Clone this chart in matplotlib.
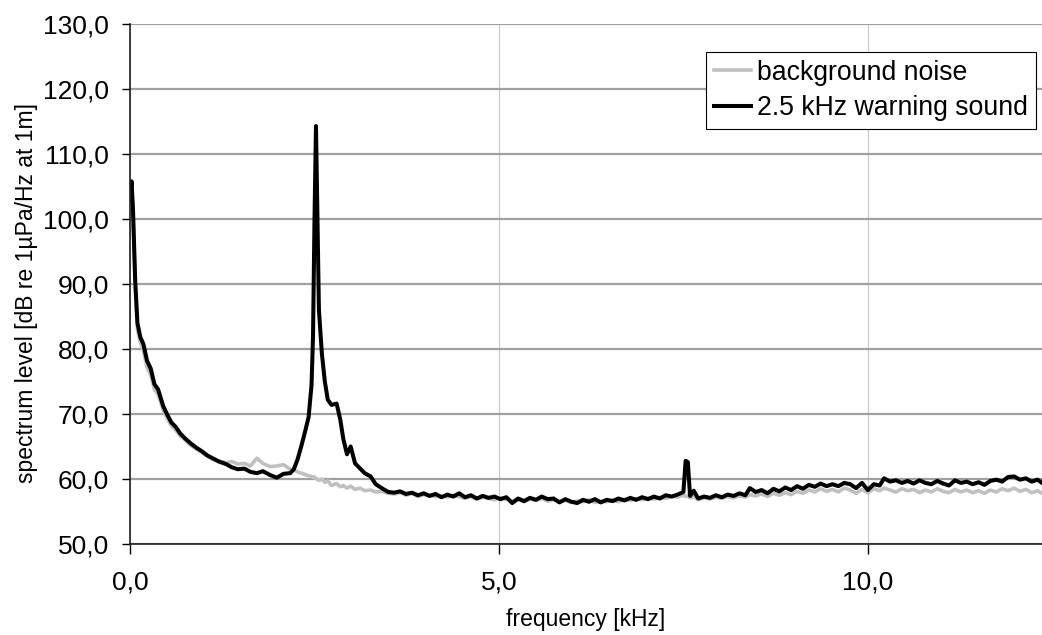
import matplotlib
matplotlib.use("Agg")
import matplotlib.pyplot as plt
from matplotlib.ticker import FuncFormatter

plt.rcParams["font.family"] = ["Liberation Sans", "DejaVu Sans"]

# frequency [kHz]
freq_khz = [
    0.00, 0.02, 0.04, 0.07, 0.10, 0.14, 0.18, 0.23,
    0.28, 0.33, 0.38, 0.45, 0.50, 0.56, 0.62, 0.68,
    0.75, 0.82, 0.90, 0.97, 1.05, 1.12, 1.20, 1.30,
    1.38, 1.46, 1.55, 1.63, 1.72, 1.80, 1.90, 1.99,
    2.08, 2.17, 2.22, 2.27, 2.32, 2.37, 2.42, 2.46,
    2.48, 2.50, 2.52, 2.54, 2.56, 2.60, 2.64, 2.68,
    2.73, 2.80, 2.85, 2.89, 2.94, 2.99, 3.05, 3.12,
    3.18, 3.26, 3.33, 3.41, 3.50, 3.58, 3.66, 3.74,
    3.82, 3.90, 3.98, 4.06, 4.14, 4.22, 4.30, 4.38,
    4.46, 4.54, 4.62, 4.70, 4.78, 4.86, 4.94, 5.02,
    5.10, 5.18, 5.26, 5.34, 5.42, 5.50, 5.58, 5.66,
    5.74, 5.82, 5.90, 5.98, 6.06, 6.14, 6.22, 6.30,
    6.38, 6.46, 6.54, 6.62, 6.70, 6.78, 6.86, 6.94,
    7.02, 7.10, 7.18, 7.26, 7.34, 7.42, 7.50, 7.53,
    7.56, 7.59, 7.64, 7.70, 7.78, 7.86, 7.94, 8.02,
    8.10, 8.18, 8.26, 8.34, 8.40, 8.48, 8.56, 8.64,
    8.72, 8.80, 8.88, 8.96, 9.04, 9.12, 9.20, 9.28,
    9.36, 9.44, 9.52, 9.60, 9.68, 9.76, 9.84, 9.92,
    10.00, 10.08, 10.16, 10.22, 10.30, 10.38, 10.46, 10.54,
    10.62, 10.70, 10.78, 10.86, 10.94, 11.02, 11.10, 11.18,
    11.26, 11.34, 11.42, 11.50, 11.58, 11.66, 11.74, 11.82,
    11.90, 11.98, 12.06, 12.14, 12.22, 12.30, 12.36,
]

# background noise [dB]
noise_db = [
    102.5, 105.0, 100.5, 89.5, 83.0, 81.0, 79.8, 77.2,
    76.0, 73.8, 73.0, 70.6, 69.4, 68.2, 67.5, 66.6,
    66.0, 65.2, 64.6, 64.1, 63.5, 63.0, 62.8, 62.5,
    62.7, 62.3, 62.4, 62.0, 63.2, 62.4, 61.9, 62.0,
    62.2, 61.5, 61.4, 61.1, 60.9, 60.7, 60.5, 60.4,
    60.2, 60.3, 60.1, 59.9, 59.8, 60.0, 59.5, 59.7,
    59.0, 59.3, 58.8, 59.0, 58.6, 58.9, 58.4, 58.6,
    58.2, 58.3, 58.0, 58.1, 57.8, 57.7, 57.9, 57.5,
    57.8, 57.3, 57.6, 57.5, 57.3, 57.4, 57.2, 57.5,
    57.3, 57.0, 57.3, 56.9, 57.2, 57.0, 56.8, 57.1,
    56.9, 56.6, 56.8, 56.5, 56.9, 56.7, 57.0, 56.6,
    56.8, 56.5, 56.7, 56.4, 56.6, 56.5, 56.8, 56.4,
    56.6, 56.5, 56.8, 56.5, 56.9, 56.7, 57.0, 56.8,
    57.1, 56.9, 57.2, 57.0, 57.3, 57.2, 57.5, 57.3,
    57.4, 57.1, 57.3, 56.8, 57.1, 56.9, 57.2, 57.0,
    57.3, 57.1, 57.4, 57.2, 57.6, 57.4, 57.7, 57.3,
    57.8, 57.5, 57.9, 57.6, 58.1, 57.8, 58.3, 58.0,
    58.5, 58.1, 58.4, 58.0, 58.6, 58.3, 57.8, 58.4,
    57.9, 58.5, 58.2, 58.6, 58.3, 58.0, 58.5, 58.2,
    58.4, 57.9, 58.3, 58.0, 58.5, 58.1, 57.9, 58.4,
    58.0, 58.3, 57.9, 58.2, 57.8, 58.3, 58.0, 58.5,
    58.2, 58.6, 58.1, 58.4, 57.9, 58.2, 57.8,
]

# 2.5 kHz warning sound [dB]
warning_db = [
    103.0, 105.8, 101.5, 90.5, 84.0, 81.8, 80.8, 78.2,
    77.0, 74.6, 73.8, 71.2, 70.0, 68.7, 68.0, 67.0,
    66.2, 65.5, 64.8, 64.3, 63.6, 63.2, 62.7, 62.3,
    61.8, 61.5, 61.6, 61.1, 60.9, 61.2, 60.6, 60.2,
    60.8, 60.9, 61.5, 63.0, 65.0, 67.2, 69.5, 74.5,
    82.0, 100.0, 114.3, 100.0, 86.0, 79.3, 75.0, 72.2,
    71.4, 71.6, 69.1, 66.2, 63.8, 65.0, 62.4, 61.6,
    60.9, 60.4, 59.2, 58.6, 58.0, 57.9, 58.1, 57.7,
    57.9, 57.5, 57.8, 57.4, 57.7, 57.2, 57.6, 57.3,
    57.8, 57.2, 57.5, 57.0, 57.4, 57.1, 57.3, 56.9,
    57.2, 56.3, 57.0, 56.6, 57.1, 56.8, 57.3, 56.9,
    57.0, 56.4, 56.9, 56.5, 56.3, 56.8, 56.5, 56.9,
    56.4, 56.8, 56.6, 57.0, 56.7, 57.1, 56.8, 57.2,
    56.9, 57.3, 57.0, 57.5, 57.3, 57.6, 58.0, 62.8,
    62.6, 57.4, 58.2, 57.0, 57.3, 57.1, 57.5, 57.2,
    57.6, 57.4, 57.8, 57.5, 58.6, 58.0, 58.3, 57.8,
    58.5, 58.1, 58.7, 58.3, 58.9, 58.5, 59.1, 58.8,
    59.3, 58.9, 59.2, 58.9, 59.4, 59.2, 58.6, 59.4,
    58.3, 59.2, 59.0, 60.1, 59.6, 59.8, 59.4, 59.7,
    59.3, 59.8, 59.4, 59.2, 59.7, 59.3, 59.0, 59.8,
    59.4, 59.6, 59.2, 59.5, 59.1, 59.7, 59.9, 59.6,
    60.3, 60.4, 59.9, 60.1, 59.6, 59.9, 59.4,
]

y_ticks = [50, 60, 70, 80, 90, 100, 110, 120, 130]
x_ticks = [0, 5, 10]


def komma(v, pos):
    return f"{v:.1f}".replace(".", ",")


fig = plt.figure(figsize=(10.42, 6.35), dpi=100)
ax = fig.add_axes([0.1248, 0.1433, 0.8752, 0.8189])

ax.plot(freq_khz, noise_db, color="#c0c0c0", lw=2.6, label="background noise",
        solid_joinstyle="round", zorder=3)
ax.plot(freq_khz, warning_db, color="black", lw=2.9, label="2.5 kHz warning sound",
        solid_joinstyle="round", zorder=4)

ax.set_xlim(0, 12.36)
ax.set_ylim(50, 130)
ax.set_xticks(x_ticks)
ax.set_yticks(y_ticks)
ax.xaxis.set_major_formatter(FuncFormatter(komma))
ax.yaxis.set_major_formatter(FuncFormatter(komma))

# Gitter
ax.yaxis.grid(True, color="#a0a0a0", lw=1.6)
ax.xaxis.grid(True, color="#c8c8c8", lw=0.8)
ax.set_axisbelow(True)

for s in ["top", "right"]:
    ax.spines[s].set_visible(False)
for s in ["left", "bottom"]:
    ax.spines[s].set_color("#202020")
    ax.spines[s].set_linewidth(1.2)
    ax.spines[s].set_zorder(5)

ax.tick_params(axis="y", direction="out", length=6, width=1, pad=9, labelsize=19)
ax.tick_params(axis="x", direction="out", length=7, width=1, pad=12, labelsize=19)

ax.set_xlabel("frequency [kHz]", fontsize=16.5, labelpad=10)
ax.set_ylabel("spectrum level [dB re 1µPa/Hz at 1m]", fontsize=16.5)
ax.yaxis.set_label_coords(-0.101, 0.483)

leg = ax.legend(loc="upper right", bbox_to_anchor=(0.993, 0.947), borderaxespad=0,
                fontsize=19.2, handlelength=1.4, handletextpad=0.2, labelspacing=0.35,
                borderpad=0.3, fancybox=False, framealpha=1, edgecolor="black")
leg.get_frame().set_linewidth(0.8)

fig.savefig("out.png", dpi=100)
